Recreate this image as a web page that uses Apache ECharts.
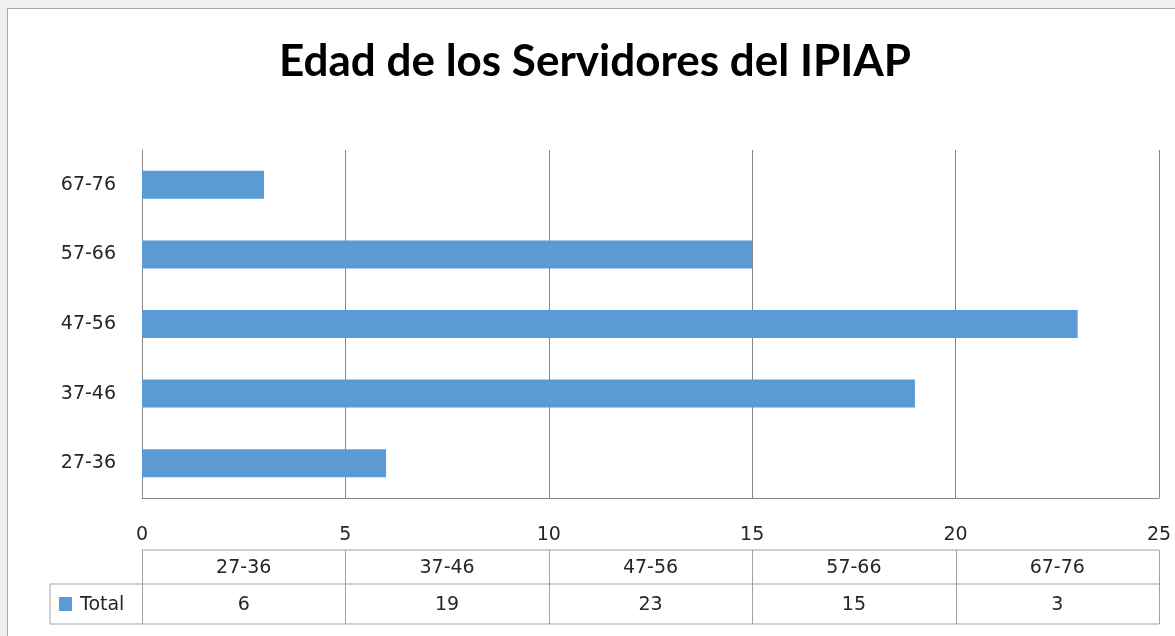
<!DOCTYPE html>
<html>
<head>
<meta charset="utf-8">
<script src="https://cdn.jsdelivr.net/npm/echarts@6/dist/echarts.min.js"></script>
<style>
  html, body { margin: 0; padding: 0; background: #f0f0f0; }
  #frame { position: absolute; left: 7px; top: 8px; width: 1200px; height: 700px; background: #fff; border: 1px solid #a6a6a6; }
  #chart { position: absolute; left: 0; top: 0; width: 1175px; height: 636px; }
</style>
</head>
<body>
<div id="frame"></div>
<div id="chart"></div>
<script>
const categories = ["27-36", "37-46", "47-56", "57-66", "67-76"];
const totals = [6, 19, 23, 15, 3];
const seriesName = "Total";
const titleText = "Edad de los Servidores del IPIAP";

const gridLeft = 142, gridRight = 1159, gridTop = 150, gridBottom = 498;
const tableTop = 550, tableMid = 584, tableBottom = 624, tableLeft = 50;
const barColor = "#5b9bd5";
const lineColor = "#a3a3a3";
const labelFont = "DejaVu Sans";
const labelSize = 19;

const chart = echarts.init(document.getElementById("chart"), null, { renderer: "canvas" });

// data table under the axis, one column per category
const buildTable = () => {
  const els = [];
  const colW = (gridRight - gridLeft) / categories.length;
  const line = (x1, y1, x2, y2) => els.push({
    type: "line", shape: { x1, y1, x2, y2 },
    style: { stroke: lineColor, lineWidth: 1 }, silent: true
  });
  line(gridLeft, tableTop, gridRight, tableTop);
  line(tableLeft, tableMid, gridRight, tableMid);
  line(tableLeft, tableBottom, gridRight, tableBottom);
  line(tableLeft, tableMid, tableLeft, tableBottom);
  for (let i = 0; i <= categories.length; i++) {
    const x = Math.round(gridLeft + i * colW) + 0.5;
    line(x, tableTop, x, tableBottom);
  }
  const font = `${labelSize}px "${labelFont}"`;
  categories.forEach((c, i) => {
    const cx = gridLeft + (i + 0.5) * colW;
    els.push({ type: "text", x: cx, y: 568, silent: true,
      style: { text: c, fill: "#262626", font, align: "center", verticalAlign: "middle" } });
    els.push({ type: "text", x: cx, y: 605, silent: true,
      style: { text: String(totals[i]), fill: "#262626", font, align: "center", verticalAlign: "middle" } });
  });
  els.push({ type: "rect", shape: { x: 59, y: 597, width: 13, height: 14 }, style: { fill: barColor }, silent: true });
  els.push({ type: "text", x: 80, y: 605, silent: true,
    style: { text: seriesName, fill: "#262626", font, align: "left", verticalAlign: "middle" } });
  return els;
};

const option = {
  animation: false,
  backgroundColor: "transparent",
  title: {
    text: titleText,
    left: 274,
    top: 35,
    textStyle: { fontFamily: "Lato", fontWeight: "bold", fontSize: 44, color: "#000" }
  },
  grid: { left: gridLeft, top: gridTop, width: gridRight - gridLeft, height: gridBottom - gridTop },
  xAxis: {
    type: "value",
    min: 0, max: 25, interval: 5,
    axisLine: { show: true, lineStyle: { color: "#868686" } },
    axisTick: { show: false },
    splitLine: { show: true, lineStyle: { color: "#868686", width: 1 } },
    axisLabel: { margin: 28, fontFamily: labelFont, fontSize: labelSize, color: "#262626" }
  },
  yAxis: {
    type: "category",
    data: categories,
    axisLine: { show: true, lineStyle: { color: "#868686" } },
    axisTick: { show: false },
    axisLabel: { margin: 26, fontFamily: labelFont, fontSize: labelSize, color: "#262626" }
  },
  series: [{
    name: seriesName,
    type: "bar",
    data: totals,
    barWidth: 28,
    itemStyle: { color: barColor }
  }],
  graphic: buildTable()
};

chart.setOption(option);
</script>
</body>
</html>
